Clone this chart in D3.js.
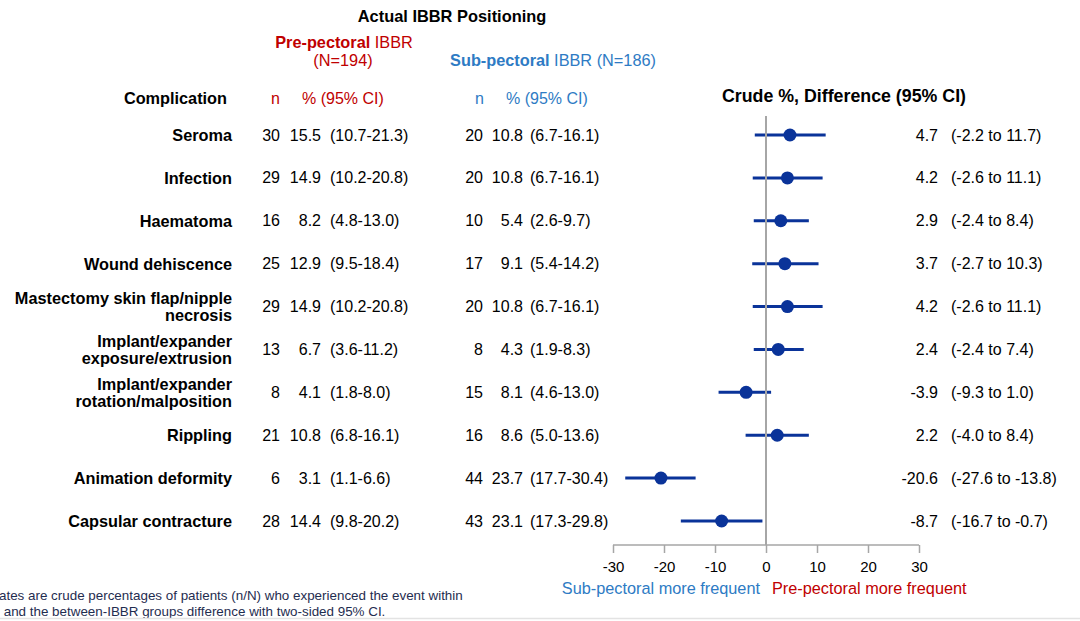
<!DOCTYPE html>
<html>
<head>
<meta charset="utf-8">
<script src="https://cdn.jsdelivr.net/npm/d3@7"></script>
<style>
  body { margin: 0; background: #fff; }
  svg { display: block; font-family: "Liberation Sans", Arial, sans-serif; }
</style>
</head>
<body>
<div id="chart"></div>
<script>
var complications = [
  ["Seroma"],
  ["Infection"],
  ["Haematoma"],
  ["Wound dehiscence"],
  ["Mastectomy skin flap/nipple", "necrosis"],
  ["Implant/expander", "exposure/extrusion"],
  ["Implant/expander", "rotation/malposition"],
  ["Rippling"],
  ["Animation deformity"],
  ["Capsular contracture"]
];
var preN   = [30, 29, 16, 25, 29, 13, 8, 21, 6, 28];
var prePct = ["15.5", "14.9", "8.2", "12.9", "14.9", "6.7", "4.1", "10.8", "3.1", "14.4"];
var preCI  = ["(10.7-21.3)", "(10.2-20.8)", "(4.8-13.0)", "(9.5-18.4)", "(10.2-20.8)", "(3.6-11.2)", "(1.8-8.0)", "(6.8-16.1)", "(1.1-6.6)", "(9.8-20.2)"];
var subN   = [20, 20, 10, 17, 20, 8, 15, 16, 44, 43];
var subPct = ["10.8", "10.8", "5.4", "9.1", "10.8", "4.3", "8.1", "8.6", "23.7", "23.1"];
var subCI  = ["(6.7-16.1)", "(6.7-16.1)", "(2.6-9.7)", "(5.4-14.2)", "(6.7-16.1)", "(1.9-8.3)", "(4.6-13.0)", "(5.0-13.6)", "(17.7-30.4)", "(17.3-29.8)"];
var diff   = [4.7, 4.2, 2.9, 3.7, 4.2, 2.4, -3.9, 2.2, -20.6, -8.7];
var diffLo = [-2.2, -2.6, -2.4, -2.7, -2.6, -2.4, -9.3, -4.0, -27.6, -16.7];
var diffHi = [11.7, 11.1, 8.4, 10.3, 11.1, 7.4, 1.0, 8.4, -13.8, -0.7];
var xTicks = [-30, -20, -10, 0, 10, 20, 30];

var red = "#c00000", blue = "#2e7bc4", navy = "#0a3399";
var width = 1080, height = 621;

var svg = d3.select("#chart").append("svg")
    .attr("width", width)
    .attr("height", height);

var x = d3.scaleLinear().domain([-30, 30]).range([613, 919]);
var y = d3.scaleLinear().domain([0, complications.length - 1]).range([135, 521]);
var idx = d3.range(complications.length);

function txt(px, py, s, opt) {
  opt = opt || {};
  return svg.append("text")
    .attr("x", px).attr("y", py)
    .attr("text-anchor", opt.anchor || "start")
    .attr("dominant-baseline", "central")
    .attr("font-size", opt.size || 16)
    .attr("font-weight", opt.bold ? "bold" : "normal")
    .attr("fill", opt.fill || "#000")
    .text(s);
}

// headers
txt(452, 16, "Actual IBBR Positioning", {anchor: "middle", bold: true, size: 16.4});

var pre = txt(344, 42, "", {anchor: "middle", fill: red, size: 16.3});
pre.append("tspan").attr("font-weight", "bold").text("Pre-pectoral");
pre.append("tspan").text(" IBBR");
txt(343, 60, "(N=194)", {anchor: "middle", fill: red, size: 16.3});

var sub = txt(553, 60, "", {anchor: "middle", fill: blue, size: 16.3});
sub.append("tspan").attr("font-weight", "bold").text("Sub-pectoral");
sub.append("tspan").text(" IBBR (N=186)");

txt(227, 98, "Complication", {anchor: "end", bold: true, size: 16.3});
txt(280, 98, "n", {anchor: "end", fill: red});
txt(302, 98, "% (95% CI)", {fill: red});
txt(484, 98, "n", {anchor: "end", fill: blue});
txt(506, 98, "% (95% CI)", {fill: blue});
txt(844, 96, "Crude %, Difference (95% CI)", {anchor: "middle", bold: true, size: 17.8});

// rows
var rows = svg.selectAll("g.row").data(idx).enter().append("g").attr("class", "row");

rows.each(function (i) {
  var g = d3.select(this);
  var lines = complications[i];
  var lab = g.append("text")
      .attr("text-anchor", "end")
      .attr("font-size", 16.3)
      .attr("font-weight", "bold")
      .attr("dominant-baseline", "central");
  lines.forEach(function (l, k) {
    lab.append("tspan")
      .attr("x", 232)
      .attr("y", y(i) + (k - (lines.length - 1) / 2) * 17.5)
      .text(l);
  });
});

function col(vals, px, anchor) {
  rows.append("text")
    .attr("x", px)
    .attr("y", function (i) { return y(i); })
    .attr("text-anchor", anchor)
    .attr("dominant-baseline", "central")
    .attr("font-size", 16)
    .attr("fill", "#000")
    .text(function (i) { return vals[i]; });
}
col(preN, 280, "end");
col(prePct, 321, "end");
col(preCI, 330, "start");
col(subN, 483, "end");
col(subPct, 523, "end");
col(subCI, 530, "start");
col(diff.map(function (d) { return d.toFixed(1); }), 938, "end");
col(idx.map(function (i) {
  return "(" + diffLo[i].toFixed(1) + " to " + diffHi[i].toFixed(1) + ")";
}), 951, "start");

// zero line + axis
svg.append("line")
    .attr("x1", x(0)).attr("x2", x(0))
    .attr("y1", 116).attr("y2", 545)
    .attr("stroke", "#a6a6a6").attr("stroke-width", 2);

var axis = svg.append("g")
    .attr("transform", "translate(0,545)")
    .call(d3.axisBottom(x).tickValues(xTicks).tickSize(8).tickPadding(8)
      .tickFormat(function (d) { return String(d); }));
axis.select(".domain").attr("stroke", "#a6a6a6").attr("stroke-width", 1.5)
    .attr("d", "M" + x(-30) + ",0H" + x(30));
axis.selectAll(".tick line").attr("stroke", "#a6a6a6").attr("stroke-width", 1.5);
axis.selectAll(".tick text").attr("font-size", 15).attr("fill", "#000")
    .attr("font-family", "Liberation Sans, Arial, sans-serif");

// CI bars and points
rows.append("line")
    .attr("x1", function (i) { return x(diffLo[i]); })
    .attr("x2", function (i) { return x(diffHi[i]); })
    .attr("y1", function (i) { return y(i); })
    .attr("y2", function (i) { return y(i); })
    .attr("stroke", navy).attr("stroke-width", 3);
rows.append("circle")
    .attr("cx", function (i) { return x(diff[i]); })
    .attr("cy", function (i) { return y(i); })
    .attr("r", 6.5)
    .attr("fill", navy);

txt(760, 588, "Sub-pectoral more frequent", {anchor: "end", fill: blue, size: 16.3});
txt(772, 588, "Pre-pectoral more frequent", {fill: red, size: 16.3});

// footnote (cut off at the left edge)
txt(-1, 595, "ates are crude percentages of patients (n/N) who experienced the event within", {size: 13.4, fill: "#1f2d50"});
txt(0, 611, " and the between-IBBR groups difference with two-sided 95% CI.", {size: 13.4, fill: "#1f2d50"})
    .style("white-space", "pre");

svg.append("line")
    .attr("x1", 0).attr("x2", width)
    .attr("y1", 618.5).attr("y2", 618.5)
    .attr("stroke", "#e3e3e3").attr("stroke-width", 1.5);
</script>
</body>
</html>
